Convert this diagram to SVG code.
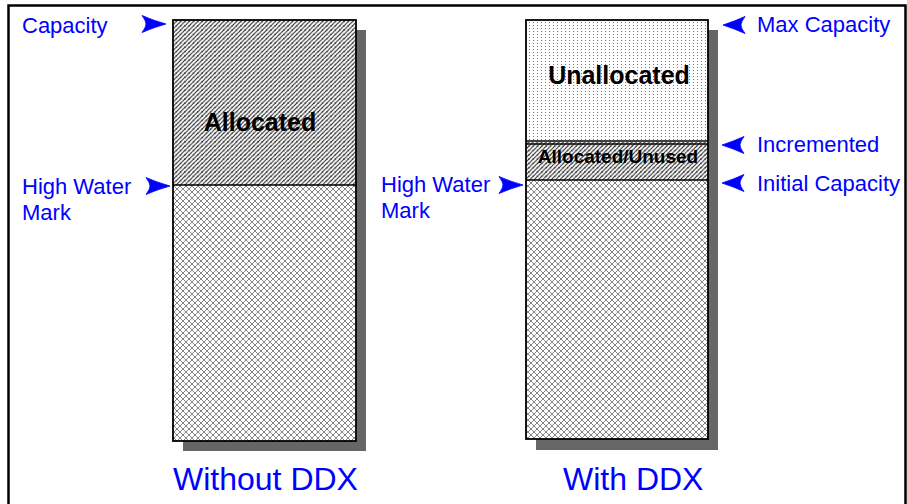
<svg xmlns="http://www.w3.org/2000/svg" width="907" height="504" viewBox="0 0 907 504">
  <defs>
    <!-- diagonal hatch for allocated space -->
    <pattern id="hatch" width="4.3" height="4.3" patternUnits="userSpaceOnUse">
      <rect width="4.3" height="4.3" fill="#fff"/>
      <path d="M-1,1.3 L1.3,-1 M0,4.3 L4.3,0 M3,5.3 L5.3,3" stroke="#222" stroke-width="1.05"/>
    </pattern>
    <!-- fine crosshatch for used space -->
    <pattern id="cross" width="6" height="6" patternUnits="userSpaceOnUse">
      <rect width="6" height="6" fill="#fff"/>
      <path d="M0,0 L6,6 M6,0 L0,6" stroke="#666" stroke-width="0.8"/>
    </pattern>
    <!-- dot screen for unallocated space -->
    <pattern id="dots" width="4" height="3" patternUnits="userSpaceOnUse">
      <rect width="4" height="3" fill="#fff"/>
      <rect x="1" y="1" width="1" height="1" fill="#777"/>
    </pattern>
    <path id="arrowR" d="M0,0 Q-14,-4 -24,-8.5 Q-20,-3 -20,0 Q-20,3 -24,8.5 Q-14,4 0,0 Z"/>
    <path id="arrowL" d="M0,0 Q12,-4 22,-8.5 Q18,-3 18,0 Q18,3 22,8.5 Q12,4 0,0 Z"/>
  </defs>
  <style>
    .lbl { font-family: "Liberation Sans", Arial, sans-serif; font-size: 22px; fill: #0000ff; }
    .cap { font-family: "Liberation Sans", Arial, sans-serif; font-size: 32px; fill: #0000ff; }
    .in { font-family: "Liberation Sans", Arial, sans-serif; font-weight: bold; fill: #000; text-anchor: middle; }
    .shadow { fill: #666; }
    .box { stroke: #000; stroke-width: 1.8; }
    .div { stroke: #000; stroke-width: 1.5; }
    .arr { fill: #0000ff; stroke: #0000ff; stroke-width: 0.8; stroke-linejoin: round; }
  </style>

  <rect width="907" height="504" fill="#fff"/>
  <!-- outer frame -->
  <path d="M8.5,506 V5.5 H905.5 V506" fill="none" stroke="#000" stroke-width="2.5"/>

  <!-- column without DDX -->
  <g id="col-without">
    <rect class="shadow" x="183" y="30" width="183" height="421"/>
    <rect x="173" y="20" width="183" height="165" fill="url(#hatch)"/>
    <rect x="173" y="185" width="183" height="256" fill="url(#cross)"/>
    <rect class="box" x="173" y="20" width="183" height="421" fill="none"/>
    <line class="div" x1="173" y1="185" x2="356" y2="185"/>
    <text class="in" x="260" y="131" font-size="25">Allocated</text>
  </g>

  <!-- column with DDX -->
  <g id="col-with">
    <rect class="shadow" x="536" y="30" width="182" height="420"/>
    <rect x="526" y="20" width="182" height="122" fill="url(#dots)"/>
    <rect x="526" y="142" width="182" height="38" fill="url(#hatch)"/>
    <rect x="526" y="180" width="182" height="259" fill="url(#cross)"/>
    <rect class="box" x="526" y="20" width="182" height="419" fill="none"/>
    <line class="div" x1="526" y1="141" x2="708" y2="141"/>
    <line class="div" x1="526" y1="144" x2="708" y2="144"/>
    <line class="div" x1="526" y1="180" x2="708" y2="180"/>
    <text class="in" x="619" y="84" font-size="25">Unallocated</text>
    <text class="in" x="618" y="163" font-size="19">Allocated/Unused</text>
  </g>

  <!-- level markers -->
  <g id="connectors">
    <use href="#arrowR" class="arr" x="166" y="24"/>
    <use href="#arrowR" class="arr" x="170" y="186"/>
    <use href="#arrowR" class="arr" x="523" y="185"/>
    <use href="#arrowL" class="arr" x="723" y="25"/>
    <use href="#arrowL" class="arr" x="722" y="145"/>
    <use href="#arrowL" class="arr" x="722" y="183"/>
  </g>

  <g id="labels">
    <text class="lbl" x="22" y="33">Capacity</text>
    <text class="lbl" x="22" y="194">High Water</text>
    <text class="lbl" x="22" y="220">Mark</text>
    <text class="lbl" x="381" y="192">High Water</text>
    <text class="lbl" x="381" y="218">Mark</text>
    <text class="lbl" x="757" y="32">Max Capacity</text>
    <text class="lbl" x="757" y="152">Incremented</text>
    <text class="lbl" x="757" y="191" font-size="21">Initial Capacity</text>
    <text class="cap" x="173" y="490">Without DDX</text>
    <text class="cap" x="563" y="490">With DDX</text>
  </g>
</svg>
